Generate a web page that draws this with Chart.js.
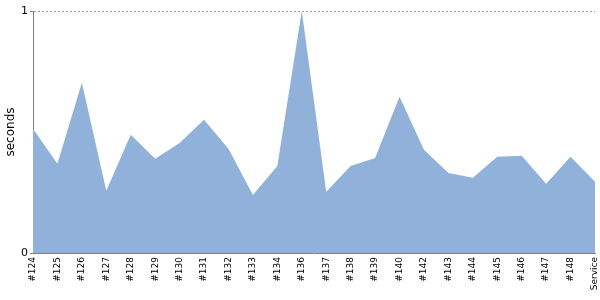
<!DOCTYPE html>
<html>
<head>
<meta charset="utf-8">
<script src="https://cdn.jsdelivr.net/npm/chart.js@4/dist/chart.umd.min.js"></script>
<style>
html,body{margin:0;padding:0;background:#fff;}
#wrap{width:600px;height:300px;position:relative;}
</style>
</head>
<body>
<div id="wrap"><canvas id="c" width="600" height="300"></canvas></div>
<script>
const categories = ["#124","#125","#126","#127","#128","#129","#130","#131","#132","#133","#134","#136","#137","#138","#139","#140","#142","#143","#144","#145","#146","#147","#148","Service"];
const seconds = [0.513,0.369,0.704,0.257,0.489,0.389,0.455,0.551,0.431,0.240,0.360,1.0,0.253,0.360,0.393,0.646,0.427,0.331,0.311,0.398,0.402,0.286,0.398,0.294];
const yTicks = [0, 1];

new Chart(document.getElementById('c'), {
  type: 'line',
  data: {
    labels: categories,
    datasets: [{
      data: seconds,
      fill: 'origin',
      backgroundColor: '#8fb1da',
      borderColor: '#8fb1da',
      borderWidth: 0,
      pointRadius: 0,
      tension: 0
    }]
  },
  options: {
    responsive: false,
    animation: false,
    layout: { padding: { top: 11, right: 5, left: 0, bottom: 0 } },
    plugins: { legend: { display: false }, tooltip: { enabled: false } },
    scales: {
      x: {
        offset: false,
        grid: { display: false, drawTicks: false },
        border: { display: true, color: '#7f7f7f', width: 1 },
        ticks: {
          autoSkip: false, maxRotation: 90, minRotation: 90, padding: 4,
          color: '#000', font: { family: 'DejaVu Sans', size: 9 }
        },
        afterFit: (s) => { s.height = 47; s.paddingLeft = 0; s.paddingRight = 0; }
      },
      y: {
        min: 0, max: 1,
        afterBuildTicks: (s) => { s.ticks = yTicks.map(v => ({ value: v })); },
        grid: {
          color: (ctx) => ctx.tick && ctx.tick.value === 1 ? '#999' : 'rgba(0,0,0,0)',
          tickColor: '#7f7f7f',
          tickLength: 3,
          drawTicks: true
        },
        border: { display: true, color: '#7f7f7f', width: 1, dash: [2, 2] },
        ticks: { padding: 2, color: '#000', font: { family: 'DejaVu Sans', size: 11 } },
        title: { display: true, text: 'seconds', color: '#000', font: { family: 'DejaVu Sans', size: 12 }, padding: { top: 4, bottom: 0 } },
        afterFit: (s) => { s.width = 33; s.paddingTop = 0; s.paddingBottom = 0; }
      }
    }
  }
});
</script>
</body>
</html>
